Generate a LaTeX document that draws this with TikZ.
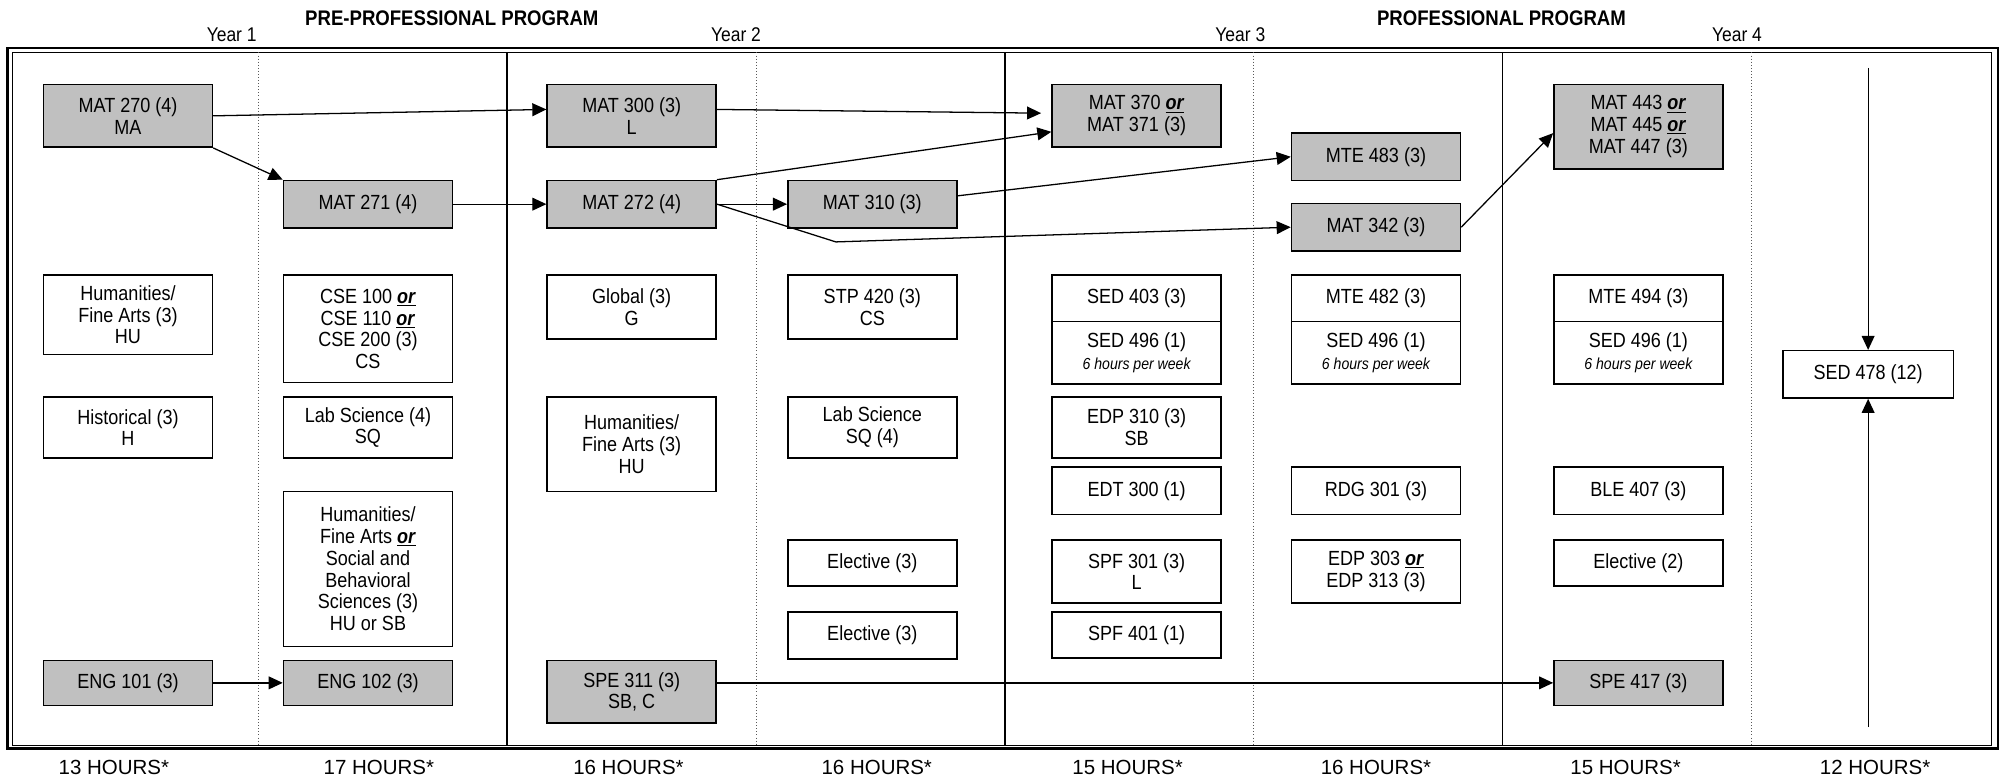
\documentclass[tikz,border=0pt]{standalone}
\usepackage{fontspec}
\setmainfont{Liberation Sans}
\newfontfamily\narrowfont{Liberation Sans}[FakeStretch=0.88]
\usepackage{xcolor}
\usepackage{tikz}
\usetikzlibrary{arrows.meta}

\definecolor{coregray}{RGB}{192,192,192}
\newcommand{\boxtext}{\narrowfont\fontsize{16}{17}\selectfont}
\newcommand{\orword}{\underline{\textbf{\textit{or}}}}
\newcommand{\perweek}{{\fontsize{12.5}{14}\selectfont\itshape 6 hours per week}}

\begin{document}
\begin{tikzpicture}[x=1pt,y=-1pt,core/.style={fill=coregray}]
			\useasboundingbox (0,0) rectangle (1568,607);
			% frame, year rules and semester rules
			\draw[line width=2.2pt] (6,37.5) rectangle (1561,585);
			\draw[line width=0.7pt] (9.5,41) rectangle (1555.5,582);
			\foreach \x in {396,1174} \draw[line width=1pt] (\x,41) -- (\x,582);
			\draw[line width=2pt] (785,41) -- (785,582);
			\foreach \x in {202,591,979,1368} \draw[dotted,gray!70!black] (\x,41) -- (\x,582);

			\begin{scope}[every node/.style={font=\narrowfont\fontsize{16.5}{18}\selectfont\bfseries}]
			    \node[anchor=base] (pre) at (353,20) {PRE-PROFESSIONAL PROGRAM};
			    \node[anchor=base] (pro) at (1173,20) {PROFESSIONAL PROGRAM};
			\end{scope}
			\begin{scope}[every node/.style={anchor=base,font=\narrowfont\fontsize{15.5}{17}\selectfont}]
			    \node (y1) at (181,32.5) {Year 1};
			    \node (y2) at (575,32.5) {Year 2};
			    \node (y3) at (969,32.5) {Year 3};
			    \node (y4) at (1357,32.5) {Year 4};
			\end{scope}
			\begin{scope}[every node/.style={anchor=base,font=\fontsize{16}{18}\selectfont}]
			    \node (h1) at (89,605) {13 HOURS*};
			    \node (h2) at (296,605) {17 HOURS*};
			    \node (h3) at (491,605) {16 HOURS*};
			    \node (h4) at (685,605) {16 HOURS*};
			    \node (h5) at (881,605) {15 HOURS*};
			    \node (h6) at (1075,605) {16 HOURS*};
			    \node (h7) at (1270,605) {15 HOURS*};
			    \node (h8) at (1465,605) {12 HOURS*};
			\end{scope}

			\begin{scope}[every node/.style={draw,line width=1.2pt,minimum width=132pt,inner sep=0pt,align=center,font=\boxtext}]
			    % year 1
			    \node[core,minimum height=49pt] (mat270) at (100,90.5) {MAT 270 (4)\\MA};
			    \node[minimum height=62pt] (hum1) at (100,246) {Humanities/\\Fine Arts (3)\\HU};
			    \node[minimum height=48pt] (hist) at (100,334) {Historical (3)\\H};
			    \node[core,minimum height=35pt] (eng101) at (100,533.5) {ENG 101 (3)};
			    \node[core,minimum height=37pt] (mat271) at (287.5,159.5) {MAT 271 (4)};
			    \node[minimum height=84pt] (cse) at (287.5,257) {CSE 100 \orword\\CSE 110 \orword\\CSE 200 (3)\\CS};
			    \node[minimum height=48pt] (lab1) at (287.5,334) {Lab Science (4)\\SQ};
			    \node[minimum height=121pt] (humsb) at (287.5,444.5) {Humanities/\\Fine Arts \orword\\Social and\\Behavioral\\Sciences (3)\\HU or SB};
			    \node[core,minimum height=35pt] (eng102) at (287.5,533.5) {ENG 102 (3)};
			    % year 2
			    \node[core,minimum height=49pt] (mat300) at (493.5,90.5) {MAT 300 (3)\\L};
			    \node[core,minimum height=37pt] (mat272) at (493.5,159.5) {MAT 272 (4)};
			    \node[minimum height=50pt] (global) at (493.5,240) {Global (3)\\G};
			    \node[minimum height=74pt] (hum2) at (493.5,347) {Humanities/\\Fine Arts (3)\\HU};
			    \node[core,minimum height=49pt] (spe311) at (493.5,540.5) {SPE 311 (3)\\SB, C};
			    \node[core,minimum height=37pt] (mat310) at (681.5,159.5) {MAT 310 (3)};
			    \node[minimum height=50pt] (stp420) at (681.5,240) {STP 420 (3)\\CS};
			    \node[minimum height=48pt] (lab2) at (681.5,334) {Lab Science\\SQ (4)};
			    \node[minimum height=36pt] (elec1) at (681.5,440) {Elective (3)};
			    \node[minimum height=37pt] (elec2) at (681.5,496.5) {Elective (3)};
			    % year 3
			    \node[core,minimum height=49pt] (mat370) at (888,90.5) {MAT 370 \orword\\MAT 371 (3)};
			    \node[minimum height=36pt] (sed403) at (888,233) {SED 403 (3)};
			    \node[minimum height=49pt] (sed496a) at (888,275.5) {SED 496 (1)\\\perweek};
			    \node[minimum height=48pt] (edp310) at (888,334) {EDP 310 (3)\\SB};
			    \node[minimum height=37pt] (edt300) at (888,383.5) {EDT 300 (1)};
			    \node[minimum height=49pt] (spf301) at (888,446.5) {SPF 301 (3)\\L};
			    \node[minimum height=36pt] (spf401) at (888,496) {SPF 401 (1)};
			    \node[core,minimum height=37pt] (mte483) at (1075,122.5) {MTE 483 (3)};
			    \node[core,minimum height=37pt] (mat342) at (1075,177.5) {MAT 342 (3)};
			    \node[minimum height=36pt] (mte482) at (1075,233) {MTE 482 (3)};
			    \node[minimum height=49pt] (sed496b) at (1075,275.5) {SED 496 (1)\\\perweek};
			    \node[minimum height=37pt] (rdg301) at (1075,383.5) {RDG 301 (3)};
			    \node[minimum height=49pt] (edp303) at (1075,446.5) {EDP 303 \orword\\EDP 313 (3)};
			    % year 4
			    \node[core,minimum height=66pt] (mat443) at (1280,99) {MAT 443 \orword\\MAT 445 \orword\\MAT 447 (3)};
			    \node[minimum height=36pt] (mte494) at (1280,233) {MTE 494 (3)};
			    \node[minimum height=49pt] (sed496c) at (1280,275.5) {SED 496 (1)\\\perweek};
			    \node[minimum height=37pt] (ble407) at (1280,383.5) {BLE 407 (3)};
			    \node[minimum height=36pt] (elec3) at (1280,440) {Elective (2)};
			    \node[core,minimum height=35pt] (spe417) at (1280,533.5) {SPE 417 (3)};
			    \node[minimum width=133pt,minimum height=37pt] (sed478) at (1459.5,292.5) {SED 478 (12)};
			\end{scope}

			\coordinate (bend) at (653,189);
			\coordinate (intop) at (1459.5,53);
			\coordinate (inbot) at (1459.5,568);

			\begin{scope}[>={Triangle[length=11pt,width=10pt]},
			              every edge/.style={draw=black,line width=1pt}]
			    \path [->] (mat270.east) edge ([yshift=5pt]mat300.west);
			    \path [->] (mat270.south east) edge (mat271.north west);
			    \path [->] (mat271) edge (mat272);
			    \path [->] ([yshift=5pt]mat300.east) edge[shorten >=8pt] ([yshift=2pt]mat370.west);
			    \path [->] (mat272.north east) edge ([yshift=-12.5pt]mat370.west);
			    \path [->] (mat272) edge (mat310);
			    \path [->] ([yshift=6.5pt]mat310.east) edge (mte483.west);
			    \path [->] (mat342.east) edge ([yshift=-5pt]mat443.west);
			    \path [->] (eng101) edge (eng102);
			    \path [->] (spe311.east |- spe417) edge (spe417);
			    \path [->] (intop) edge (sed478);
			    \path [->] (inbot) edge (sed478);
			    \draw [->,line width=1pt] (mat272.east) -- (bend) -- (mat342.west);
			\end{scope}
\end{tikzpicture}
\end{document}
